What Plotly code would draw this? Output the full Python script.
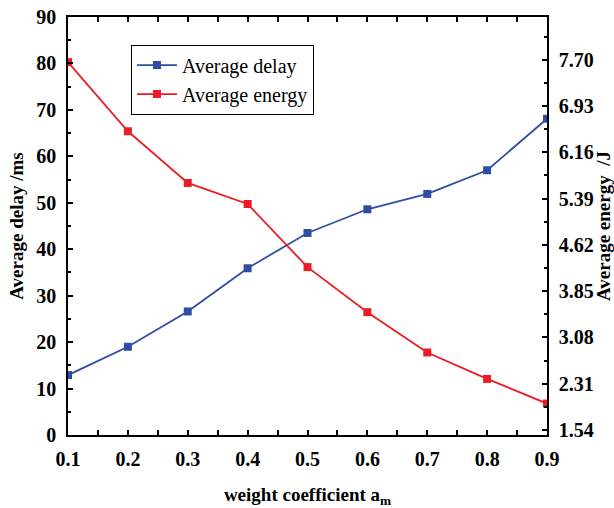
import plotly.graph_objects as go

# weight coefficient a_m
weights = [0.1, 0.2, 0.3, 0.4, 0.5, 0.6, 0.7, 0.8, 0.9]
# average delay (ms)
avg_delay = [12.9, 19.0, 26.6, 35.9, 43.5, 48.6, 51.9, 57.0, 68.1]
# average energy (J)
avg_energy = [7.66, 6.51, 5.65, 5.30, 4.25, 3.50, 2.83, 2.39, 1.98]

x_ticks = [0.1, 0.2, 0.3, 0.4, 0.5, 0.6, 0.7, 0.8, 0.9]
delay_ticks = [0, 10, 20, 30, 40, 50, 60, 70, 80, 90]
energy_ticks = [1.54, 2.31, 3.08, 3.85, 4.62, 5.39, 6.16, 6.93, 7.70]

BLUE = "#2f4ea3"
RED = "#ec1c24"
FONT = "Liberation Serif"

fig = go.Figure()
fig.add_trace(go.Scatter(
    x=weights, y=avg_delay, name="Average delay", mode="lines+markers",
    line=dict(color=BLUE, width=1.8),
    marker=dict(symbol="square", size=8, color=BLUE),
))
fig.add_trace(go.Scatter(
    x=weights, y=avg_energy, name="Average energy", mode="lines+markers",
    line=dict(color=RED, width=1.8),
    marker=dict(symbol="square", size=8, color=RED),
    yaxis="y2",
))

tick_font = dict(family=FONT, size=20, color="black", weight="bold")
title_font = dict(family=FONT, size=19, color="black", weight="bold")

fig.update_layout(
    width=614, height=508,
    margin=dict(l=68, r=67, t=17, b=73, autoexpand=False),
    paper_bgcolor="white", plot_bgcolor="white",
    showlegend=True,
    legend=dict(
        x=0.1315, y=0.934, xanchor="left", yanchor="top",
        bgcolor="white", bordercolor="black", borderwidth=1,
        font=dict(family=FONT, size=20, color="black"),
        itemwidth=40, tracegroupgap=0,
    ),
    xaxis=dict(
        range=[0.1, 0.9], tickvals=x_ticks, automargin=False,
        ticktext=[f"{v:.1f}" for v in x_ticks],
        showgrid=False, zeroline=False,
        showline=True, linecolor="black", linewidth=1.5, mirror="allticks",
        ticks="inside", ticklen=5, tickwidth=1.5, tickcolor="black",
        minor=dict(tickvals=[round(v + 0.05, 2) for v in x_ticks[:-1]],
                   ticks="inside", ticklen=3, tickwidth=1.5, tickcolor="black"),
        tickfont=tick_font, ticklabelstandoff=5,
        title=dict(text="weight coefficient a<sub>m</sub>", font=title_font, standoff=24),
    ),
    yaxis=dict(
        range=[0, 90], tickvals=delay_ticks, automargin=False,
        showgrid=False, zeroline=False,
        showline=True, linecolor="black", linewidth=1.5,
        ticks="inside", ticklen=5, tickwidth=1.5, tickcolor="black",
        minor=dict(tickvals=[v + 5 for v in delay_ticks[:-1]],
                   ticks="inside", ticklen=3, tickwidth=1.5, tickcolor="black"),
        tickfont=tick_font, ticklabelstandoff=6,
        title=dict(text="Average delay /ms", font=title_font, standoff=8),
    ),
    yaxis2=dict(
        overlaying="y", side="right", automargin=False,
        range=[1.457, 8.411], tickvals=energy_ticks,
        ticktext=[f"{v:.2f}" for v in energy_ticks],
        showgrid=False, zeroline=False,
        showline=True, linecolor="black", linewidth=1.5,
        ticks="inside", ticklen=5, tickwidth=1.5, tickcolor="black",
        minor=dict(tickvals=[round(v + 0.385, 3) for v in energy_ticks],
                   ticks="inside", ticklen=3, tickwidth=1.5, tickcolor="black"),
        tickfont=tick_font, ticklabelstandoff=6,
        title=dict(text="Average energy &nbsp;/J", font=title_font, standoff=8),
    ),
)

fig.write_html("out.html")
